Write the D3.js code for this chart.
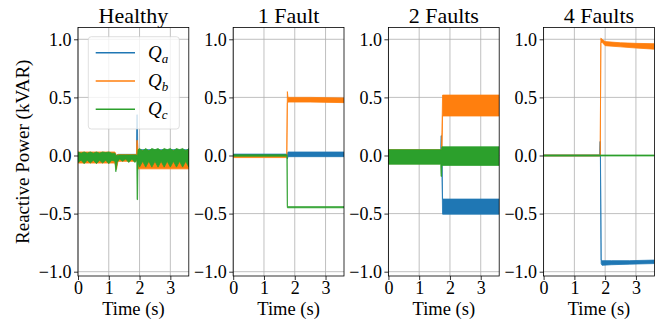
<!DOCTYPE html>
<html><head><meta charset="utf-8">
<script src="https://cdn.jsdelivr.net/npm/d3@7"></script>
<style>
body{margin:0;background:#fff}
svg{display:block}
</style>
</head><body>
<svg id="c" width="667" height="320"></svg>
<script>
// ---------- data ----------
const titles = ["Healthy", "1 Fault", "2 Faults", "4 Faults"];
const seriesLabels = ["a", "b", "c"];
const colors = ["#1f77b4", "#ff7f0e", "#2ca02c"];
const xTicks = [0, 1, 2, 3];
const yTicks = [-1.0, -0.5, 0.0, 0.5, 1.0];
const xDomain = [0, 3.6];
const yDomain = [-1.037, 1.1015];

// rows: [time (s), low envelope (kVAR), high envelope (kVAR)]
const healthyQa = [[0,-0.05,0.02],[1.2,-0.05,0.02],[1.24,-0.1,0.0],[1.3,-0.04,0.01],[1.9,-0.04,0.01],[1.91,-0.02,0.35],[1.93,-0.02,0.35],[1.94,-0.05,0.05],[3.6,-0.08,0.05]];
const healthyQb = [[0,-0.065,0.03],[1.2,-0.065,0.03],[1.25,-0.12,0.0],[1.3,-0.05,0.008],[1.9,-0.05,0.008],[1.91,-0.02,0.13],[1.93,-0.02,0.13],[1.95,-0.115,0.04],[3.6,-0.115,0.04]];
const healthyQc = [[0,-0.06,0.03],[0.1,-0.04,0.02],[0.2,-0.07,0.03],[0.3,-0.04,0.02],[0.4,-0.065,0.03],[0.5,-0.04,0.02],[0.6,-0.07,0.03],[0.7,-0.04,0.02],[0.8,-0.065,0.03],[0.9,-0.04,0.025],[1.0,-0.07,0.03],[1.1,-0.04,0.02],[1.2,-0.05,0.02],[1.23,-0.14,0.0],[1.27,-0.06,0.0],[1.35,-0.03,0.005],[1.45,-0.05,0.005],[1.55,-0.03,0.005],[1.65,-0.06,0.005],[1.75,-0.03,0.005],[1.85,-0.06,0.005],[1.91,-0.03,0.005],[1.92,-0.38,0.0],[1.935,-0.38,0.0],[1.95,-0.06,0.05],[2.0,-0.1,0.06],[2.1,-0.05,0.04],[2.2,-0.1,0.06],[2.3,-0.05,0.04],[2.4,-0.1,0.06],[2.5,-0.05,0.05],[2.6,-0.1,0.06],[2.7,-0.05,0.04],[2.8,-0.1,0.06],[2.9,-0.05,0.05],[3.0,-0.1,0.06],[3.1,-0.05,0.04],[3.2,-0.1,0.06],[3.3,-0.05,0.05],[3.4,-0.1,0.06],[3.5,-0.05,0.04],[3.6,-0.1,0.06]];

const oneQa = [[0,-0.005,0.012],[1.75,-0.005,0.012],[1.76,-0.03,0.01],[1.78,-0.01,0.03],[3.6,-0.01,0.03]];
const oneQb = [[0,-0.018,0.0],[1.74,-0.018,0.0],[1.76,0.45,0.55],[1.78,0.46,0.5],[2.5,0.46,0.5],[3.6,0.455,0.495]];
const oneQc = [[0,-0.006,0.006],[1.75,-0.006,0.006],[1.76,-0.45,-0.44],[3.6,-0.45,-0.44]];

const twoQa = [[0,-0.06,0.04],[1.7,-0.06,0.04],[1.71,-0.06,0.17],[1.725,-0.06,0.17],[1.74,-0.1,0.0],[1.76,-0.505,-0.375],[3.6,-0.505,-0.375]];
const twoQb = [[0,-0.07,0.05],[1.72,-0.07,0.05],[1.74,0.0,0.2],[1.76,0.34,0.52],[3.6,0.34,0.52]];
const twoQc = [[0,-0.075,0.05],[1.7,-0.075,0.05],[1.71,-0.18,0.05],[1.725,-0.18,0.05],[1.74,-0.085,0.075],[3.6,-0.085,0.075]];

const fourQa = [[0,-0.004,0.004],[1.82,-0.004,0.004],[1.83,-0.004,0.12],[1.845,-0.004,0.12],[1.87,-0.93,-0.9],[1.9,-0.945,-0.905],[2.2,-0.94,-0.905],[2.8,-0.935,-0.905],[3.6,-0.93,-0.9]];
const fourQb = [[0,-0.004,0.004],[1.84,-0.004,0.004],[1.86,0.97,1.01],[1.9,0.975,1.0],[2.0,0.945,0.98],[2.5,0.935,0.97],[3.0,0.925,0.965],[3.6,0.915,0.962]];
const fourQc = [[0,-0.004,0.004],[3.6,-0.004,0.004]];

const panelSeries = [
  [healthyQa, healthyQb, healthyQc],
  [oneQa, oneQb, oneQc],
  [twoQa, twoQb, twoQc],
  [fourQa, fourQb, fourQc]
];

// ---------- layout ----------
const FONT = "'Liberation Serif', 'Times New Roman', serif";
const svg = d3.select("#c");
const W = 110.8, TOP = 27.5, BOT = 276, LEFT0 = 78, STEP = 155.2;
const fmtY = d3.format(".1f");

titles.forEach((title, i) => {
  const x0 = LEFT0 + i * STEP;
  const x = d3.scaleLinear().domain(xDomain).range([x0, x0 + W]);
  const y = d3.scaleLinear().domain(yDomain).range([BOT, TOP]);
  const g = svg.append("g");

  g.selectAll("line.gx").data(xTicks).join("line").attr("class","gx")
    .attr("x1", d => x(d)).attr("x2", d => x(d)).attr("y1", TOP).attr("y2", BOT)
    .attr("stroke", "#b0b0b0").attr("stroke-width", 0.8);
  g.selectAll("line.gy").data(yTicks).join("line").attr("class","gy")
    .attr("y1", d => y(d)).attr("y2", d => y(d)).attr("x1", x0).attr("x2", x0 + W)
    .attr("stroke", "#b0b0b0").attr("stroke-width", 0.8);

  const cid = "clip" + i;
  svg.append("clipPath").attr("id", cid).append("rect")
    .attr("x", x0).attr("y", TOP).attr("width", W).attr("height", BOT - TOP);

  const area = d3.area().x(d => x(d[0])).y0(d => y(d[1])).y1(d => y(d[2]));
  const dg = g.append("g").attr("clip-path", `url(#${cid})`);
  panelSeries[i].forEach((s, k) => {
    dg.append("path").datum(s).attr("d", area)
      .attr("fill", colors[k]).attr("stroke", colors[k]).attr("stroke-width", 0.8)
      .attr("stroke-linejoin", "round");
  });

  const ax = g.append("g").attr("transform", `translate(0,${BOT})`)
    .call(d3.axisBottom(x).tickValues(xTicks).tickSize(4).tickSizeOuter(0).tickPadding(1.5).tickFormat(d3.format("d")));
  const ay = g.append("g").attr("transform", `translate(${x0},0)`)
    .call(d3.axisLeft(y).tickValues(yTicks).tickSize(4).tickSizeOuter(0).tickPadding(2.5).tickFormat(fmtY));
  [ax, ay].forEach(a => {
    a.select(".domain").remove();
    a.attr("font-family", FONT).attr("font-size", 18);
    a.selectAll("line").attr("stroke", "#000").attr("stroke-width", 0.8);
    a.selectAll("text").style("font-family", FONT).style("font-size", "18px");
  });

  g.append("rect").attr("x", x0).attr("y", TOP).attr("width", W).attr("height", BOT - TOP)
    .attr("fill", "none").attr("stroke", "#000").attr("stroke-width", 0.8);

  g.append("text").attr("x", x0 + W / 2).attr("y", 22.5).attr("text-anchor", "middle")
    .style("font-family", FONT).style("font-size", "22px").text(title);
  g.append("text").attr("x", x0 + W / 2).attr("y", 315).attr("text-anchor", "middle")
    .style("font-family", FONT).style("font-size", "18.5px").text("Time (s)");
});

svg.append("text").attr("transform", `translate(29,${(TOP + BOT) / 2}) rotate(-90)`)
  .attr("text-anchor", "middle").style("font-family", FONT).style("font-size", "19px")
  .text("Reactive Power (kVAR)");

const lg = svg.append("g");
lg.append("rect").attr("x", 88.3).attr("y", 36.7).attr("width", 91).attr("height", 92.3)
  .attr("rx", 3).attr("fill", "#fff").attr("fill-opacity", 0.8)
  .attr("stroke", "#cccccc").attr("stroke-opacity", 0.8).attr("stroke-width", 0.8);
seriesLabels.forEach((lab, k) => {
  const ly = 52.7 + k * 28.3;
  lg.append("line").attr("x1", 95.7).attr("x2", 135).attr("y1", ly).attr("y2", ly)
    .attr("stroke", colors[k]).attr("stroke-width", 1.5);
  const t = lg.append("text").attr("x", 148).attr("y", ly + 6)
    .style("font-family", FONT).style("font-size", "19px");
  t.append("tspan").style("font-style", "italic").text("Q");
  t.append("tspan").style("font-style", "italic").style("font-size", "13px").attr("dy", 4).text(lab);
});
</script>
</body></html>
